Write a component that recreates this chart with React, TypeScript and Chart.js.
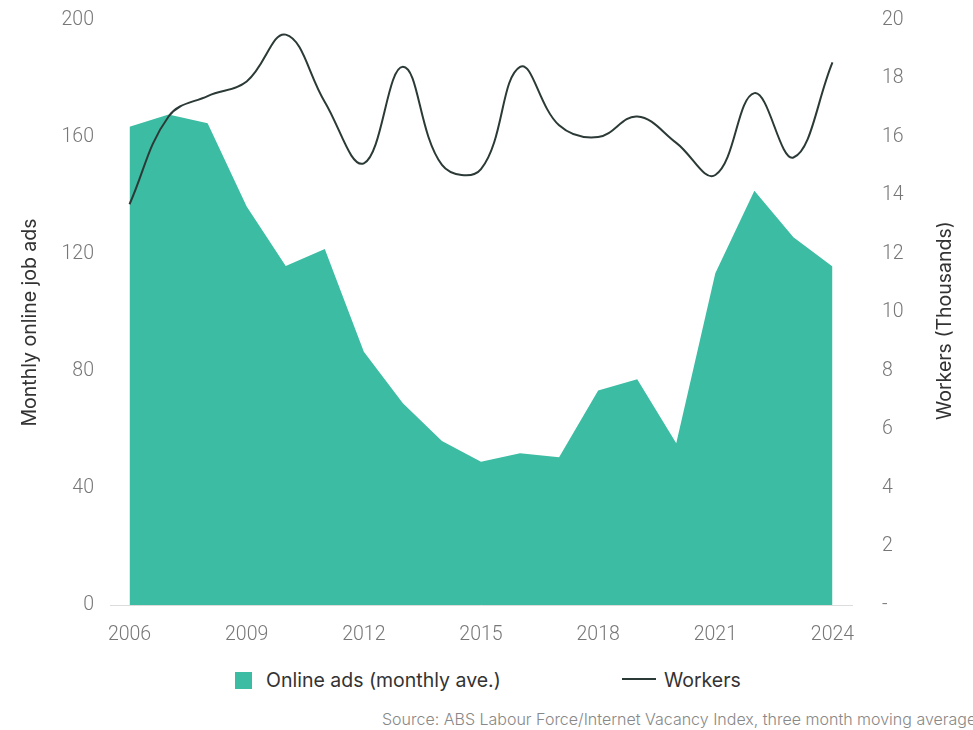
import React, { useEffect, useRef } from "react";
import { Chart, registerables } from "chart.js";

Chart.register(...registerables);

const years = ["2006","2007","2008","2009","2010","2011","2012","2013","2014","2015","2016","2017","2018","2019","2020","2021","2022","2023","2024"];
const onlineAds = [163.5, 167.7, 164.7, 136.2, 115.9, 121.7, 86.6, 69.0, 56.1, 49.0, 51.9, 50.5, 73.3, 77.2, 55.3, 113.4, 141.6, 125.7, 115.7];
const workers = [13.7, 16.7, 17.4, 17.9, 19.5, 17.2, 15.1, 18.4, 15.05, 14.9, 18.4, 16.4, 16.0, 16.7, 15.8, 14.7, 17.5, 15.3, 18.55];
const leftTitle = "Monthly online job ads";
const rightTitle = "Workers (Thousands)";
const adsLabel = "Online ads (monthly ave.)";
const workersLabel = "Workers";
const sourceText = "Source: ABS Labour Force/Internet Vacancy Index, three month moving average";

const AREA = "#3dbca4";
const LINE = "#2b3a37";
const FONT = "Inter, 'Noto Sans', sans-serif";
const TICKFONT = "Roboto, Inter, sans-serif";

if (typeof document !== "undefined") {
  document.body.style.margin = "0";
}

const axisTitlesPlugin = {
  id: "axisTitles",
  afterDraw(chart: any) {
    const { ctx, chartArea } = chart;
    const cy = (chartArea.top + chartArea.bottom) / 2 + 10;
    ctx.save();
    ctx.font = `400 19.5px ${FONT}`;
    ctx.fillStyle = "#333";
    ctx.textAlign = "center";
    ctx.textBaseline = "middle";
    ctx.save();
    ctx.translate(22, cy);
    ctx.rotate(-Math.PI / 2);
    ctx.fillText(leftTitle, 0, 0);
    ctx.restore();
    ctx.save();
    ctx.translate(937, cy - 2);
    ctx.rotate(-Math.PI / 2);
    ctx.fillText(rightTitle, 0, 0);
    ctx.restore();
    ctx.restore();
  },
};

export default function App() {
  const ref = useRef<HTMLCanvasElement>(null);
  useEffect(() => {
    if (!ref.current) return;
    const tickFont = { family: TICKFONT, size: 19.5, weight: "300" as any };
    const chart = new Chart(ref.current, {
      type: "line",
      data: {
        labels: years,
        datasets: [
          {
            label: workersLabel,
            data: workers,
            yAxisID: "y1",
            borderColor: LINE,
            borderWidth: 2,
            pointRadius: 0,
            tension: 0.4,
            fill: false,
          },
          {
            label: adsLabel,
            data: onlineAds,
            yAxisID: "y",
            borderColor: AREA,
            backgroundColor: AREA,
            borderWidth: 0,
            pointRadius: 0,
            tension: 0,
            fill: "origin",
          },
        ],
      },
      options: {
        responsive: false,
        animation: false,
        devicePixelRatio: 1,
        layout: { padding: { top: 12, left: 0, right: 0, bottom: 0 } },
        plugins: { legend: { display: false }, tooltip: { enabled: false } },
        scales: {
          x: {
            type: "category",
            offset: true,
            grid: { display: false, drawTicks: false },
            border: { display: true, color: "#dcdcdc", width: 1 },
            ticks: {
              autoSkip: false,
              maxRotation: 0,
              padding: 18,
              color: "#777",
              font: tickFont,
              callback: function (this: any, val: any, i: number) {
                return i % 3 === 0 ? this.getLabelForValue(val) : "";
              },
            },
            afterFit: (s: any) => { s.height = 63; s.paddingLeft = 0; s.paddingRight = 0; },
          },
          y: {
            position: "left",
            min: 0,
            max: 200,
            grid: { display: false, drawTicks: false },
            border: { display: false },
            ticks: {
              stepSize: 40,
              padding: 16,
              color: "#777",
              font: tickFont,
            },
            afterFit: (s: any) => { s.width = 102; s.paddingTop = 0; s.paddingBottom = 0; },
          },
          y1: {
            position: "right",
            min: 0,
            max: 20,
            grid: { display: false, drawTicks: false },
            border: { display: false },
            ticks: {
              stepSize: 2,
              padding: 30,
              color: "#777",
              font: tickFont,
              callback: (v: any) => (v === 0 ? "-" : String(v)),
            },
            afterFit: (s: any) => { s.width = 113; s.paddingTop = 0; s.paddingBottom = 0; },
          },
        },
      },
      plugins: [axisTitlesPlugin],
    });
    return () => chart.destroy();
  }, []);

  return (
    <div style={{ position: "relative", width: 973, height: 730, overflow: "hidden", fontFamily: FONT }}>
      <canvas ref={ref} width={957} height={660} style={{ display: "block", position: "absolute", left: 8, top: 8 }} />
      <div style={{ position: "absolute", left: 235, top: 672, width: 17, height: 17, background: AREA }} />
      <div style={{ position: "absolute", left: 266, top: 668, fontSize: 19.5, lineHeight: "24px", color: "#333", whiteSpace: "nowrap" }}>{adsLabel}</div>
      <div style={{ position: "absolute", left: 622, top: 678, width: 34, height: 2, background: LINE }} />
      <div style={{ position: "absolute", left: 664, top: 668, fontSize: 19.5, lineHeight: "24px", color: "#333", whiteSpace: "nowrap" }}>{workersLabel}</div>
      <div style={{ position: "absolute", left: 382, top: 711, fontSize: 16, lineHeight: "16px", color: "#888", fontWeight: 300, whiteSpace: "nowrap" }}>{sourceText}</div>
    </div>
  );
}
